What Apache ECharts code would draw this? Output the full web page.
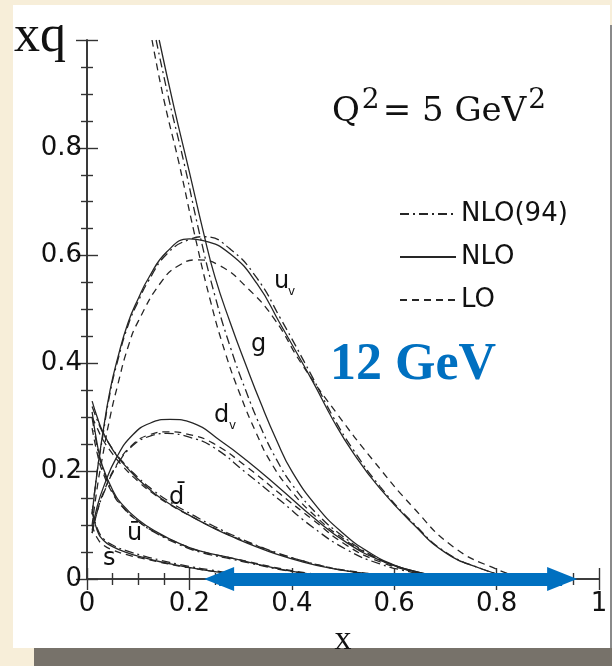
<!DOCTYPE html>
<html>
<head>
<meta charset="utf-8">
<script src="https://cdn.jsdelivr.net/npm/echarts@6/dist/echarts.min.js"></script>
<style>
  html, body { margin: 0; padding: 0; background: #f7eed9; }
  #wrap { position: relative; width: 612px; height: 666px; overflow: hidden; }
  #panel { position: absolute; left: 13px; top: 5px; width: 597px; height: 643px; background: #fff; }
  #edge { position: absolute; left: 610px; top: 25px; width: 2px; height: 623px; background: #8a8a8a; }
  #bar { position: absolute; left: 34px; top: 648px; width: 578px; height: 18px; background: #77726a; }
  #chart { position: absolute; left: 0; top: 0; width: 612px; height: 666px; }
</style>
</head>
<body>
<div id="wrap">
  <div id="panel"></div>
  <div id="edge"></div>
  <div id="bar"></div>
  <div id="chart"></div>
</div>
<script>
// x q(x) at Q^2 = 5 GeV^2, values as [x, xq]
const uvNLO94 = [[0.01,0.12],[0.02,0.2],[0.03,0.26],[0.045,0.345],[0.06,0.405],[0.08,0.47],[0.10,0.515],[0.12,0.553],[0.156,0.603],[0.20,0.63],[0.23,0.635],[0.28,0.612],[0.332,0.558],[0.377,0.485],[0.44,0.375],[0.48,0.302],[0.52,0.24],[0.572,0.172],[0.637,0.104],[0.70,0.05],[0.77,0.019],[0.82,0.005]];
const uvNLO = [[0.01,0.12],[0.02,0.2],[0.03,0.265],[0.045,0.35],[0.06,0.41],[0.08,0.475],[0.10,0.52],[0.12,0.558],[0.156,0.607],[0.20,0.631],[0.227,0.628],[0.28,0.603],[0.332,0.548],[0.377,0.474],[0.44,0.368],[0.48,0.296],[0.52,0.234],[0.572,0.168],[0.637,0.102],[0.70,0.049],[0.77,0.019],[0.82,0.005]];
const uvLO = [[0.01,0.1],[0.02,0.17],[0.03,0.225],[0.045,0.3],[0.06,0.36],[0.08,0.43],[0.10,0.478],[0.148,0.555],[0.182,0.583],[0.214,0.592],[0.26,0.581],[0.312,0.541],[0.364,0.485],[0.42,0.398],[0.488,0.307],[0.559,0.22],[0.637,0.133],[0.715,0.06],[0.80,0.018],[0.85,0.003]];

const dvNLO94 = [[0.01,0.085],[0.02,0.125],[0.032,0.158],[0.058,0.21],[0.09,0.248],[0.123,0.265],[0.156,0.27],[0.20,0.263],[0.246,0.245],[0.312,0.196],[0.377,0.146],[0.441,0.096],[0.508,0.054],[0.572,0.028],[0.637,0.012],[0.68,0.004]];
const dvNLO = [[0.01,0.09],[0.02,0.135],[0.032,0.17],[0.058,0.226],[0.09,0.268],[0.123,0.289],[0.162,0.296],[0.207,0.289],[0.26,0.257],[0.312,0.22],[0.377,0.168],[0.441,0.115],[0.508,0.067],[0.572,0.035],[0.637,0.015],[0.68,0.006]];
const dvLO = [[0.01,0.085],[0.02,0.125],[0.032,0.16],[0.058,0.212],[0.09,0.25],[0.123,0.268],[0.156,0.273],[0.20,0.268],[0.246,0.252],[0.312,0.208],[0.377,0.158],[0.441,0.11],[0.508,0.062],[0.572,0.032],[0.637,0.014],[0.68,0.005]];

const gNLO94 = [[0.135,1.0],[0.16,0.89],[0.19,0.77],[0.22,0.64],[0.25,0.525],[0.28,0.43],[0.31,0.35],[0.34,0.28],[0.37,0.222],[0.40,0.176],[0.45,0.12],[0.50,0.079],[0.55,0.047],[0.60,0.025],[0.65,0.011],[0.70,0.003]];
const gNLO = [[0.141,1.0],[0.17,0.875],[0.20,0.755],[0.227,0.645],[0.25,0.56],[0.28,0.475],[0.31,0.398],[0.34,0.325],[0.37,0.258],[0.40,0.2],[0.45,0.133],[0.50,0.085],[0.55,0.05],[0.60,0.026],[0.65,0.012],[0.70,0.004]];
const gLO = [[0.127,1.0],[0.15,0.89],[0.18,0.77],[0.21,0.64],[0.24,0.52],[0.27,0.42],[0.30,0.34],[0.33,0.272],[0.36,0.215],[0.40,0.162],[0.45,0.113],[0.50,0.075],[0.55,0.046],[0.60,0.025],[0.65,0.011],[0.70,0.003]];

const dbarNLO94 = [[0.01,0.32],[0.02,0.295],[0.03,0.273],[0.05,0.241],[0.07,0.217],[0.10,0.188],[0.13,0.164],[0.16,0.144],[0.21,0.117],[0.25,0.097],[0.29,0.079],[0.33,0.063],[0.37,0.049],[0.42,0.034],[0.47,0.022],[0.52,0.013],[0.57,0.007],[0.62,0.003],[0.66,0.001]];
const dbarNLO = [[0.01,0.33],[0.02,0.3],[0.03,0.275],[0.05,0.24],[0.07,0.215],[0.10,0.185],[0.13,0.16],[0.16,0.14],[0.21,0.113],[0.25,0.093],[0.29,0.076],[0.33,0.06],[0.37,0.046],[0.42,0.032],[0.47,0.021],[0.52,0.013],[0.57,0.007],[0.62,0.003],[0.66,0.001]];
const dbarLO = [[0.01,0.3],[0.02,0.28],[0.03,0.26],[0.05,0.232],[0.07,0.209],[0.10,0.181],[0.13,0.158],[0.16,0.139],[0.21,0.113],[0.25,0.094],[0.29,0.077],[0.33,0.062],[0.37,0.048],[0.42,0.034],[0.47,0.022],[0.52,0.014],[0.57,0.008],[0.62,0.003],[0.66,0.001]];

const ubarNLO94 = [[0.01,0.3],[0.02,0.245],[0.03,0.207],[0.05,0.162],[0.07,0.134],[0.10,0.107],[0.135,0.085],[0.18,0.064],[0.22,0.05],[0.287,0.036],[0.33,0.027],[0.38,0.017],[0.43,0.01],[0.48,0.005],[0.53,0.002]];
const ubarNLO = [[0.01,0.31],[0.02,0.25],[0.03,0.21],[0.05,0.165],[0.07,0.137],[0.10,0.11],[0.135,0.088],[0.18,0.066],[0.22,0.052],[0.287,0.038],[0.33,0.028],[0.38,0.018],[0.43,0.01],[0.48,0.005],[0.53,0.002]];
const ubarLO = [[0.01,0.28],[0.02,0.233],[0.03,0.2],[0.05,0.159],[0.07,0.133],[0.10,0.107],[0.135,0.086],[0.18,0.066],[0.22,0.052],[0.287,0.038],[0.33,0.029],[0.38,0.019],[0.43,0.011],[0.48,0.005],[0.53,0.002]];

const sNLO94 = [[0.01,0.13],[0.02,0.094],[0.032,0.075],[0.05,0.063],[0.078,0.052],[0.11,0.043],[0.143,0.035],[0.18,0.027],[0.207,0.022],[0.24,0.017],[0.273,0.012],[0.32,0.007],[0.37,0.003],[0.42,0.001]];
const sNLO = [[0.01,0.125],[0.02,0.09],[0.032,0.072],[0.05,0.06],[0.078,0.049],[0.11,0.04],[0.143,0.032],[0.18,0.025],[0.207,0.02],[0.24,0.015],[0.273,0.011],[0.32,0.006],[0.37,0.003],[0.42,0.001]];
const sLO = [[0.01,0.1],[0.02,0.076],[0.032,0.063],[0.05,0.054],[0.078,0.045],[0.11,0.038],[0.143,0.031],[0.18,0.024],[0.207,0.02],[0.24,0.015],[0.273,0.011],[0.32,0.006],[0.37,0.003],[0.42,0.001]];

const legendNames = ['NLO(94)', 'NLO', 'LO'];
const arrowRange = [0.258, 0.928];   // reach of the 12 GeV arrow along x

const ink = '#262626';
const dashOf = {
  'NLO(94)': [9, 4, 2, 4],
  'NLO': 'solid',
  'LO': [7, 5]
};

const chart = echarts.init(document.getElementById('chart'), null, { renderer: 'canvas' });

const groups = [
  [uvNLO94, uvNLO, uvLO],
  [dvNLO94, dvNLO, dvLO],
  [gNLO94, gNLO, gLO],
  [dbarNLO94, dbarNLO, dbarLO],
  [ubarNLO94, ubarNLO, ubarLO],
  [sNLO94, sNLO, sLO]
];

let series = [];
for (let k = 0; k < 3; k++) {
  for (let i = 0; i < groups.length; i++) {
    series.push({
      type: 'line',
      name: legendNames[k],
      data: groups[i][k],
      smooth: 0.5,
      symbol: 'none',
      showSymbol: false,
      silent: true,
      lineStyle: { color: ink, width: 1.3, type: dashOf[legendNames[k]] },
      itemStyle: { color: ink },
      z: 3
    });
  }
}

// blue double arrow for the 12 GeV reach
series.push({
  type: 'line',
  data: [],
  silent: true,
  markLine: {
    silent: true,
    symbol: ['triangle', 'triangle'],
    symbolSize: [24, 30],
    label: { show: false },
    lineStyle: { color: '#0070c0', width: 13, type: 'solid' },
    itemStyle: { color: '#0070c0' },
    emphasis: { disabled: true },
    data: [[{ coord: [arrowRange[0], 0] }, { coord: [arrowRange[1], 0] }]]
  },
  z: 10
});

const tickLbl = { fontFamily: 'DejaVu Sans', fontSize: 26, color: '#111' };
const frameAxis = {
  axisLine: { show: true, lineStyle: { color: '#333', width: 1.6 } },
  axisTick: { show: true, inside: true, length: 11, lineStyle: { color: '#333', width: 1.4 } },
  minorTick: { show: true, splitNumber: 4, length: 6, lineStyle: { color: '#333', width: 1.4 } },
  splitLine: { show: false }
};

chart.setOption({
  animation: false,
  grid: { left: 87, top: 40, right: 13, bottom: 87 },
  legend: {
    data: legendNames,
    orient: 'vertical',
    left: 394,
    top: 194,
    itemWidth: 56,
    itemHeight: 14,
    itemGap: 13,
    selectedMode: false,
    itemStyle: { color: 'rgba(0,0,0,0)', borderColor: 'rgba(0,0,0,0)', borderWidth: 0 },
    textStyle: { fontFamily: 'DejaVu Sans', fontSize: 26, color: '#111', lineHeight: 30 }
  },
  xAxis: [
    Object.assign({
      type: 'value', min: 0, max: 1, interval: 0.2, position: 'bottom',
      axisLabel: Object.assign({ margin: 12, formatter: v => String(+v.toFixed(1)) }, tickLbl),
      name: 'x', nameLocation: 'middle', nameGap: 44,
      nameTextStyle: { fontFamily: 'Liberation Serif', fontSize: 34, color: '#111' }
    }, frameAxis),
    Object.assign({
      type: 'value', min: 0, max: 1, interval: 0.2, position: 'top',
      axisLabel: { show: false }
    }, frameAxis)
  ],
  yAxis: [
    Object.assign({
      type: 'value', min: 0, max: 1, interval: 0.2, position: 'left',
      axisLabel: Object.assign({ margin: 5, formatter: v => (v >= 1 ? '' : String(+v.toFixed(1))) }, tickLbl)
    }, frameAxis),
    Object.assign({
      type: 'value', min: 0, max: 1, interval: 0.2, position: 'right',
      axisLabel: { show: false }
    }, frameAxis)
  ],
  graphic: [
    { type: 'text', left: 14, top: 11, style: { text: 'xq', font: '52px "Liberation Serif"', fill: '#111' } },
    {
      type: 'text', left: 332, top: 87,
      style: {
        text: '{b|Q}{s|2}{b|= 5 GeV}{s|2}',
        rich: {
          b: { font: '34px "DejaVu Serif"', fill: '#111', verticalAlign: 'bottom', lineHeight: 42 },
          s: { font: '28px "DejaVu Serif"', fill: '#111', verticalAlign: 'top', lineHeight: 42, padding: [0, 3, 14, 2] }
        }
      }
    },
    { type: 'text', left: 330, top: 340, style: { text: '12 GeV', font: 'bold 52px "Liberation Serif"', fill: '#0070c0' } },
    { type: 'text', left: 274, top: 270, style: { text: 'u', font: '24px "DejaVu Sans"', fill: '#111' } },
    { type: 'text', left: 288, top: 286, style: { text: 'v', font: '12px "DejaVu Sans"', fill: '#111' } },
    { type: 'text', left: 251, top: 333, style: { text: 'g', font: '24px "DejaVu Sans"', fill: '#111' } },
    { type: 'text', left: 214, top: 404, style: { text: 'd', font: '24px "DejaVu Sans"', fill: '#111' } },
    { type: 'text', left: 229, top: 420, style: { text: 'v', font: '12px "DejaVu Sans"', fill: '#111' } },
    { type: 'text', left: 169, top: 486, style: { text: 'd\u0304', font: '24px "DejaVu Sans"', fill: '#111' } },
    { type: 'text', left: 127, top: 522, style: { text: 'u\u0304', font: '24px "DejaVu Sans"', fill: '#111' } },
    { type: 'text', left: 103, top: 547, style: { text: 's', font: '24px "DejaVu Sans"', fill: '#111' } }
  ],
  series: series
});
</script>
</body>
</html>
